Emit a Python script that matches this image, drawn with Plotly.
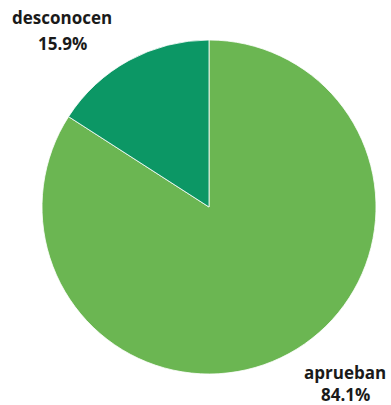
import plotly.graph_objects as go

labels = ["aprueban", "desconocen"]
values = [84.1, 15.9]
colors = ["#6bb652", "#0c9765"]
label_pos = {"desconocen": (62, 18, 43), "aprueban": (345, 372, 394)}

W, H = 391, 405
fig = go.Figure(go.Pie(
    labels=labels, values=values, sort=False, direction="clockwise",
    rotation=0, textinfo="none", hoverinfo="label+percent",
    marker=dict(colors=colors, line=dict(color="white", width=0.8)),
    domain=dict(x=[42 / W, 376 / W], y=[31 / H, 365 / H]),
))

ann = []
for lab, v in zip(labels, values):
    x, y1, y2 = label_pos[lab]
    for txt, y in ((lab, y1), (f"{v:.1f}%", y2)):
        ann.append(dict(text=f"<b>{txt}</b>", x=x / W, y=1 - y / H, xref="paper", yref="paper",
                        xanchor="center", yanchor="middle", showarrow=False, borderpad=0,
                        font=dict(family="Open Sans", size=17, color="#1a1a1a")))

fig.update_layout(width=W, height=H, margin=dict(l=0, r=0, t=0, b=0),
                  showlegend=False, paper_bgcolor="white", annotations=ann)
fig.write_html("out.html", config={"displayModeBar": False},
               post_script="document.body.style.margin='0';document.body.style.overflow='hidden';")
